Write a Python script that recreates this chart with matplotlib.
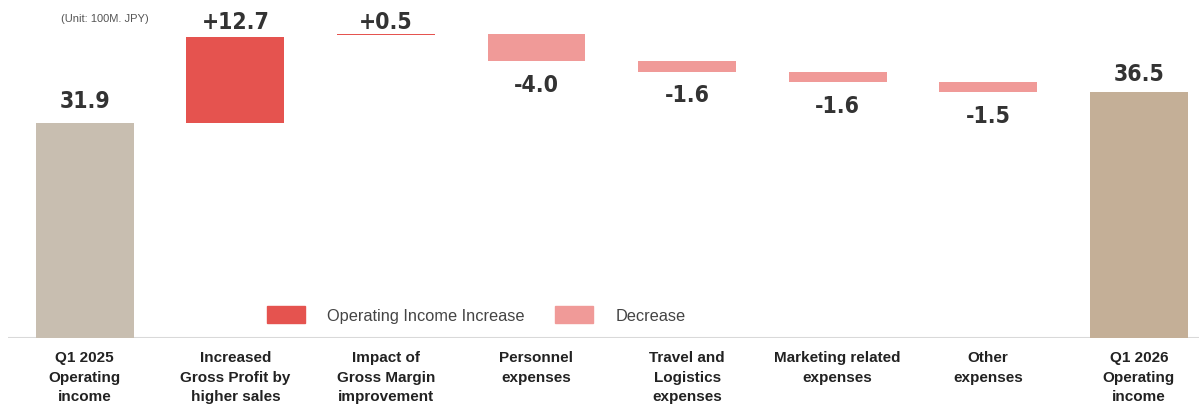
import numpy as np
import matplotlib
matplotlib.use("Agg")
import matplotlib.pyplot as plt
from matplotlib.patches import Patch
from matplotlib import font_manager as fm

categories = ["Q1 2025\nOperating\nincome",
              "Increased\nGross Profit by\nhigher sales",
              "Impact of\nGross Margin\nimprovement",
              "Personnel\nexpenses",
              "Travel and\nLogistics\nexpenses",
              "Marketing related\nexpenses",
              "Other\nexpenses",
              "Q1 2026\nOperating\nincome"]
start_value = 31.9
deltas = [12.7, 0.5, -4.0, -1.6, -1.6, -1.5]
end_value = 36.5
value_labels = ["31.9", "+12.7", "+0.5", "-4.0", "-1.6", "-1.6", "-1.5", "36.5"]

C_START, C_END = "#c8beb0", "#c4af97"
C_UP, C_DOWN = "#e5534f", "#f09a98"

plt.rcParams["font.family"] = ["Liberation Sans", "DejaVu Sans"]
fig = plt.figure(figsize=(11.99, 4.04), dpi=100)
ax = fig.add_axes([8 / 1199, 66 / 404, 1191 / 1199, 338 / 404])

# condensed bold face for the value labels
cond = [f for f in fm.fontManager.ttflist
        if "Narrow" in f.name or ("Condensed" in f.fname and "Bold" in f.fname)]
if cond:
    vprop = fm.FontProperties(fname=cond[0].fname, size=16.5)
else:
    vprop = fm.FontProperties(family="DejaVu Sans", weight="bold", stretch="condensed", size=16.5)

x = np.arange(len(categories))
w = 0.65

def vlabel(xi, y, s):
    ax.text(xi, y, s, ha="center", va="center", color="#333333", fontproperties=vprop)

ax.bar(x[0], start_value, w, color=C_START)
vlabel(x[0], start_value + 3.2, value_labels[0])

level = start_value
for i, d in enumerate(deltas, start=1):
    bottom = level if d > 0 else level + d
    col = C_UP if d > 0 else C_DOWN
    h = abs(d)
    if i == 2:
        h = 0.25
        bottom = level + d - 0.25
    ax.bar(x[i], h, w, bottom=bottom, color=col)
    if d > 0:
        vlabel(x[i], level + d + 2.1 if i == 1 else level + d + 1.7, value_labels[i])
    else:
        vlabel(x[i], level + d - 3.6, value_labels[i])
    level += d

ax.bar(x[-1], end_value, w, color=C_END)
vlabel(x[-1], end_value + 2.6, value_labels[-1])

ax.axhline(0, color="#d9d9d9", lw=1.5, zorder=0)
ax.set_xlim(-0.51, 7.4)
ax.set_ylim(0, 50.1)
ax.set_xticks(x)
ax.set_xticklabels(categories, fontsize=11, fontweight="bold", color="#222222",
                   linespacing=1.5, va="top")
ax.tick_params(axis="x", length=0, pad=9.5)
ax.set_yticks([])
for s in ax.spines.values():
    s.set_visible(False)

fig.text(105 / 1199, 1 - 19 / 404, "(Unit: 100M. JPY)", ha="center", va="center",
         fontsize=8, color="#555555")

handles = [Patch(color=C_UP, label="Operating Income Increase"),
           Patch(color=C_DOWN, label="Decrease")]
ax.legend(handles=handles, ncol=2, frameon=False, loc="center",
          bbox_to_anchor=(476 / 1199, 1 - 315 / 404), bbox_transform=fig.transFigure,
          fontsize=11.8, handlelength=2.32, handleheight=1.22, handletextpad=1.34,
          columnspacing=1.9, labelcolor="#444444")

fig.savefig("out.png", dpi=100)
